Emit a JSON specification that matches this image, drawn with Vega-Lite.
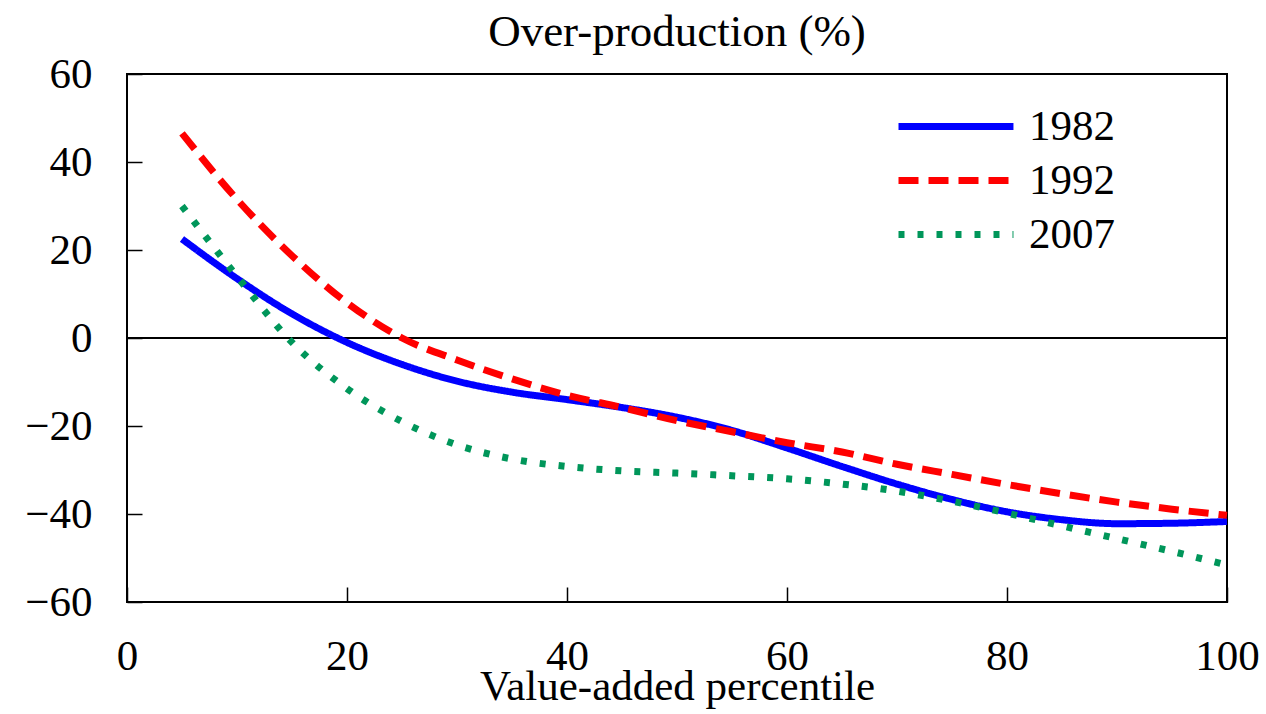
{
  "$schema": "https://vega.github.io/schema/vega-lite/v6.json",
  "width": 1100,
  "height": 528,
  "autosize": {"type": "none"},
  "padding": {"left": 127, "top": 74, "right": 39, "bottom": 112},
  "background": "white",
  "title": {"text": "Over-production (%)", "anchor": "middle", "frame": "group", "font": "Liberation Serif", "fontSize": 45, "fontWeight": "normal", "color": "black", "offset": -2},
  "config": {
    "view": {"stroke": "black", "strokeWidth": 2},
    "axis": {"labelFont": "Liberation Serif", "titleFont": "Liberation Serif", "labelColor": "black", "titleColor": "black", "titleFontWeight": "normal", "grid": false, "domain": false, "tickColor": "black", "tickWidth": 1.5}
  },
  "data": {"values": [
    {"p": 5, "v": 22.5, "year": "1982"}, {"p": 10, "v": 13.5, "year": "1982"}, {"p": 15, "v": 5.5, "year": "1982"}, {"p": 20, "v": -1, "year": "1982"}, {"p": 25, "v": -6, "year": "1982"}, {"p": 30, "v": -9.8, "year": "1982"}, {"p": 35, "v": -12.3, "year": "1982"}, {"p": 40, "v": -14, "year": "1982"}, {"p": 45, "v": -15.8, "year": "1982"}, {"p": 50, "v": -18, "year": "1982"}, {"p": 55, "v": -21, "year": "1982"}, {"p": 60, "v": -25, "year": "1982"}, {"p": 65, "v": -29.2, "year": "1982"}, {"p": 70, "v": -33.2, "year": "1982"}, {"p": 75, "v": -36.7, "year": "1982"}, {"p": 80, "v": -39.5, "year": "1982"}, {"p": 85, "v": -41.3, "year": "1982"}, {"p": 90, "v": -42.2, "year": "1982"}, {"p": 95, "v": -42.1, "year": "1982"}, {"p": 100, "v": -41.7, "year": "1982"},
    {"p": 5, "v": 46.5, "year": "1992"}, {"p": 10, "v": 31.5, "year": "1992"}, {"p": 15, "v": 18.7, "year": "1992"}, {"p": 20, "v": 8, "year": "1992"}, {"p": 25, "v": 0, "year": "1992"}, {"p": 30, "v": -5, "year": "1992"}, {"p": 35, "v": -9.3, "year": "1992"}, {"p": 40, "v": -13, "year": "1992"}, {"p": 45, "v": -15.8, "year": "1992"}, {"p": 50, "v": -18.8, "year": "1992"}, {"p": 55, "v": -21.3, "year": "1992"}, {"p": 60, "v": -23.8, "year": "1992"}, {"p": 65, "v": -25.9, "year": "1992"}, {"p": 70, "v": -28.7, "year": "1992"}, {"p": 75, "v": -31, "year": "1992"}, {"p": 80, "v": -33.3, "year": "1992"}, {"p": 85, "v": -35.4, "year": "1992"}, {"p": 90, "v": -37.3, "year": "1992"}, {"p": 95, "v": -38.9, "year": "1992"}, {"p": 100, "v": -40.3, "year": "1992"},
    {"p": 5, "v": 30, "year": "2007"}, {"p": 10, "v": 14, "year": "2007"}, {"p": 15, "v": -1, "year": "2007"}, {"p": 20, "v": -11.5, "year": "2007"}, {"p": 25, "v": -19, "year": "2007"}, {"p": 30, "v": -24.3, "year": "2007"}, {"p": 35, "v": -27.5, "year": "2007"}, {"p": 40, "v": -29.2, "year": "2007"}, {"p": 45, "v": -30.2, "year": "2007"}, {"p": 50, "v": -30.7, "year": "2007"}, {"p": 55, "v": -31.3, "year": "2007"}, {"p": 60, "v": -32, "year": "2007"}, {"p": 65, "v": -33.2, "year": "2007"}, {"p": 70, "v": -34.8, "year": "2007"}, {"p": 75, "v": -37.1, "year": "2007"}, {"p": 80, "v": -39.8, "year": "2007"}, {"p": 85, "v": -42.7, "year": "2007"}, {"p": 90, "v": -45.6, "year": "2007"}, {"p": 95, "v": -48.5, "year": "2007"}, {"p": 100, "v": -51.6, "year": "2007"}
  ]},
  "layer": [
    {
      "mark": {"type": "rule", "color": "black", "strokeWidth": 1.5},
      "encoding": {"y": {"datum": 0, "type": "quantitative", "scale": {"domain": [-60, 60]}}}
    },
    {
      "mark": {"type": "line", "strokeWidth": 7, "strokeCap": "butt", "interpolate": "monotone"},
      "encoding": {
        "x": {"field": "p", "type": "quantitative", "scale": {"domain": [0, 100], "nice": false}, "axis": {"values": [0, 20, 40, 60, 80, 100], "title": "Value-added percentile", "labelFontSize": 43, "titleFontSize": 43, "tickSize": -15, "labelPadding": 48, "labelFlush": false, "titlePadding": -13}},
        "y": {"field": "v", "type": "quantitative", "scale": {"domain": [-60, 60], "nice": false}, "axis": {"values": [-60, -40, -20, 0, 20, 40, 60], "title": null, "labelFontSize": 43, "tickSize": -15, "labelPadding": 50}},
        "color": {"field": "year", "type": "nominal", "scale": {"domain": ["1982", "1992", "2007"], "range": ["#0000ff", "#ff0000", "#00965a"]},
          "legend": {"title": null, "orient": "none", "legendX": 750, "legendY": 31, "padding": 0, "labelFont": "Liberation Serif", "labelFontSize": 43, "labelColor": "black", "symbolType": "M0,0H8", "symbolSize": 826, "symbolStrokeWidth": 7, "labelOffset": 109, "rowPadding": 10}},
        "strokeDash": {"field": "year", "type": "nominal", "scale": {"domain": ["1982", "1992", "2007"], "range": [[1, 0], [20, 10], [6, 13]]}, "legend": null}
      }
    }
  ]
}
